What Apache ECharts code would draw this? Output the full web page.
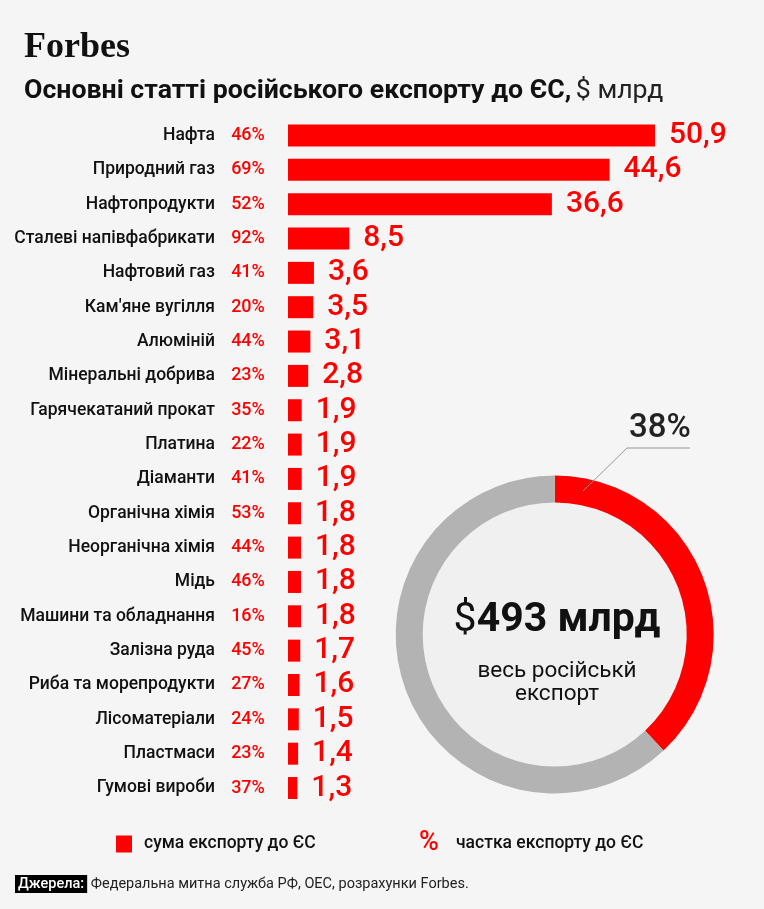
<!DOCTYPE html>
<html>
<head>
<meta charset="utf-8">
<script src="https://cdn.jsdelivr.net/npm/echarts@6/dist/echarts.min.js"></script>
<style>
html,body{margin:0;padding:0;background:#f4f5f4;}
#chart{width:764px;height:909px;}
</style>
</head>
<body>
<div id="chart"></div>
<script>
const categories = ['Нафта','Природний газ','Нафтопродукти','Сталеві напівфабрикати','Нафтовий газ',"Кам'яне вугілля",'Алюміній','Мінеральні добрива','Гарячекатаний прокат','Платина','Діаманти','Органічна хімія','Неорганічна хімія','Мідь','Машини та обладнання','Залізна руда','Риба та морепродукти','Лісоматеріали','Пластмаси','Гумові вироби'];
const values = [50.9,44.6,36.6,8.5,3.6,3.5,3.1,2.8,1.9,1.9,1.9,1.8,1.8,1.8,1.8,1.7,1.6,1.5,1.4,1.3];
const shares = [46,69,52,92,41,20,44,23,35,22,41,53,44,46,16,45,27,24,23,37];
const totalExport = 493;
const euShareOfTotal = 38;
const donutData = [
  {name:'ЄС', value: euShareOfTotal},
  {name:'Інші', value: 100 - euShareOfTotal}
];

const FONT = 'Roboto, "Noto Sans", sans-serif';
const RED = '#ff0000';
const chart = echarts.init(document.getElementById('chart'), null, {renderer:'canvas'});

const cx = 554.7, cy = 634.5, rIn = 132, rOut = 159;

chart.setOption({
  backgroundColor:'#f4f5f4',
  textStyle:{fontFamily:FONT},
  animation:false,
  title:[{
    left:24, top:78, padding:0,
    text:'{b|Основні статті російського експорту до ЄС,} {n|$ млрд}',
    textStyle:{
      rich:{
        b:{fontFamily:FONT,fontSize:26.7,fontWeight:700,color:'#111'},
        n:{fontFamily:FONT,fontSize:26.7,fontWeight:400,color:'#222'}
      }
    }
  }],
  legend:{
    data:[{name:'сума експорту до ЄС', icon:'rect'}],
    left:116, top:835, padding:0,
    itemWidth:16, itemHeight:17, itemGap:10,
    textStyle:{fontFamily:FONT,fontSize:17.5,fontWeight:500,color:'#111',padding:[0,0,0,7]},
    selectedMode:false
  },
  grid:{left:288, top:118.3, width:432.6, height:686.9},
  xAxis:{type:'value', min:0, max:60, show:false},
  yAxis:{
    type:'category', data:categories, inverse:true,
    axisLine:{show:false}, axisTick:{show:false}, splitLine:{show:false},
    axisLabel:{
      margin:20,
      formatter:function(v, i){ return '{n|'+v+'}{p|'+shares[i]+'%}'; },
      rich:{
        n:{fontFamily:FONT,fontSize:17.5,fontWeight:500,color:'#111',padding:[0,13,0,0]},
        p:{fontFamily:FONT,fontSize:18,fontWeight:500,color:RED,width:40,align:'center'}
      }
    }
  },
  series:[
    {
      type:'bar', name:'сума експорту до ЄС', data:values, barWidth:22,
      itemStyle:{color:RED},
      label:{
        show:true, position:'right', distance:14,
        fontFamily:FONT, fontSize:30, fontWeight:500, color:RED,
        formatter:function(p){ return String(p.value).replace('.',','); }
      }
    },
    {
      type:'pie', center:[cx,cy], radius:[0,rIn], silent:true,
      data:[{value:1,itemStyle:{color:'#f0f0f0'}}],
      label:{show:false}, labelLine:{show:false}, z:1
    },
    {
      type:'pie', center:[cx,cy], radius:[rIn,rOut], startAngle:90, clockwise:true,
      silent:true, data:donutData,
      color:[RED,'#b3b3b3'],
      itemStyle:{borderWidth:0},
      label:{show:false}, labelLine:{show:false}
    }
  ],
  graphic:[
    {type:'text', left:24, top:30, z:100,
      style:{text:'Forbes', fontFamily:'"Liberation Serif", "DejaVu Serif", serif', fontSize:36, fontWeight:700, fill:'#111'}},
    {type:'polyline', z:100, shape:{points:[[583,491],[627,448],[690,448]]}, style:{stroke:'#999',lineWidth:1,fill:null}},
    {type:'text', x:660, y:429, z:100,
      style:{text:euShareOfTotal+'%', fontFamily:FONT, fontSize:33, fontWeight:500, fill:'#222', align:'center', verticalAlign:'middle'}},
    {type:'text', x:557, y:621, z:100,
      style:{text:'{d|$}{v|'+totalExport+' млрд}', align:'center', verticalAlign:'middle',
        rich:{
          d:{fontFamily:FONT,fontSize:41,fontWeight:400,fill:'#111'},
          v:{fontFamily:FONT,fontSize:41,fontWeight:700,fill:'#111'}
        }}},
    {type:'text', x:557, y:683, z:100,
      style:{text:'весь російськй\nекспорт', fontFamily:FONT, fontSize:22.5, fontWeight:400, fill:'#111', align:'center', verticalAlign:'middle', lineHeight:23}},
    {type:'text', x:419, y:843, z:100,
      style:{text:'%', fontFamily:FONT, fontSize:27, fontWeight:500, fill:RED, verticalAlign:'middle'}},
    {type:'text', x:456, y:844, z:100,
      style:{text:'частка експорту до ЄС', fontFamily:FONT, fontSize:17.5, fontWeight:500, fill:'#111', verticalAlign:'middle'}},
    {type:'text', x:15, y:884, z:100,
      style:{text:'{k|Джерела:}{s| Федеральна митна служба РФ, ОЕС, розрахунки Forbes.}', verticalAlign:'middle',
        rich:{
          k:{fontFamily:FONT,fontSize:14.5,fontWeight:500,fill:'#fff',backgroundColor:'#000',padding:[2,3,1,3]},
          s:{fontFamily:FONT,fontSize:14.5,fontWeight:400,fill:'#222'}
        }}}
  ]
});
</script>
</body>
</html>
